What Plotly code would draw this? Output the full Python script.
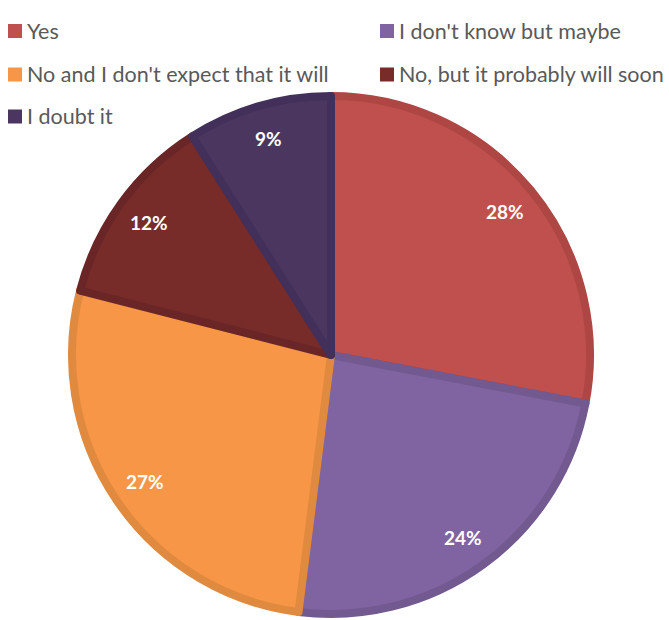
import math
import plotly.graph_objects as go

# Survey answers, clockwise from 12 o'clock
labels = [
    "Yes",
    "I don't know but maybe",
    "No and I don't expect that it will",
    "No, but it probably will soon",
    "I doubt it",
]
values = [28, 24, 27, 12, 9]

fill_colors = ["#C0504D", "#8064A2", "#F79646", "#772C2A", "#4B3660"]
edge_colors = ["#AE4744", "#72598F", "#E08A40", "#6A2626", "#43305A"]

W, H = 669, 620
cx, cy, r = 331, 355, 259
FONT = "Lato"

fig = go.Figure(
    go.Pie(
        labels=labels,
        values=values,
        sort=False,
        direction="clockwise",
        rotation=0,
        marker=dict(colors=fill_colors, line=dict(color=edge_colors, width=8)),
        textinfo="none",
        hoverinfo="label+percent",
        showlegend=False,
        domain=dict(
            x=[(cx - r) / W, (cx + r) / W],
            y=[1 - (cy + r) / H, 1 - (cy - r) / H],
        ),
    )
)

annotations, shapes = [], []

# Percentage labels placed near the outer end of each slice
total = sum(values)
cum = 0
for v in values:
    mid = (cum + v / 2) / total * 2 * math.pi
    cum += v
    px = cx + 0.87 * r * math.sin(mid)
    py = cy - 0.87 * r * math.cos(mid)
    annotations.append(dict(
        text=f"<b>{v}%</b>", xref="paper", yref="paper",
        x=px / W, y=1 - py / H, xanchor="center", yanchor="middle",
        showarrow=False,
        font=dict(family=FONT, size=19, color="white"),
    ))

# Legend laid out in two columns, drawn as squares plus text
col_x = [8, 380]
row_y = [31, 74.5, 116.5]
for i, (lab, col) in enumerate(zip(labels, fill_colors)):
    x0 = col_x[i % 2]
    yc = row_y[i // 2]
    shapes.append(dict(
        type="rect", xref="paper", yref="paper",
        x0=x0 / W, x1=(x0 + 14) / W,
        y0=1 - (yc + 7) / H, y1=1 - (yc - 7) / H,
        fillcolor=col, line=dict(width=0),
    ))
    annotations.append(dict(
        text=lab, xref="paper", yref="paper",
        x=(x0 + 17) / W, y=1 - yc / H,
        xanchor="left", yanchor="middle", showarrow=False,
        font=dict(family=FONT, size=21.5, color="#595959"),
    ))

fig.update_layout(
    width=W, height=H,
    margin=dict(l=0, r=0, t=0, b=0),
    paper_bgcolor="white",
    plot_bgcolor="white",
    shapes=shapes,
    annotations=annotations,
)

fig.write_html("out.html")
